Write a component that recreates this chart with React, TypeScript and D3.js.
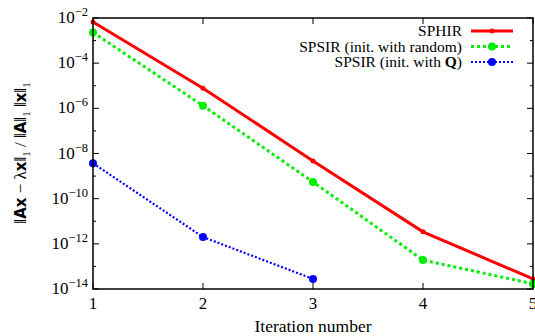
import React from "react";
import * as d3 from "d3";

const iterations = [1, 2, 3, 4, 5];
const sphir = [6.6e-3, 7.8e-6, 4.7e-9, 3.4e-12, 2.8e-14];
const spsirRandom = [2.3e-3, 1.3e-6, 5.5e-10, 1.9e-13, 1.7e-14];
const spsirQ = [3.7e-9, 2.0e-12, 2.8e-14];
const yTickExps = [-2, -4, -6, -8, -10, -12, -14];
const yMinorExps = [-3, -5, -7, -9, -11, -13];

const W = 535, H = 336;
const M = { left: 93, right: 533, top: 18, bottom: 289 };
const FONT = "Liberation Serif";

export default function App() {
  const x = d3.scaleLinear().domain([1, 5]).range([M.left, M.right]);
  const y = d3.scaleLog().domain([1e-14, 1e-2]).range([M.bottom, M.top]);
  const line = d3
    .line<[number, number]>()
    .x((d) => x(d[0]))
    .y((d) => y(d[1]));

  const series = [
    { name: "SPHIR", data: sphir, color: "#ff0000", width: 3, dash: "none", r: 2.5 },
    { name: "rand", data: spsirRandom, color: "#00ee00", width: 3, dash: "3,3", r: 4 },
    { name: "Q", data: spsirQ, color: "#0000ff", width: 2.2, dash: "2,2", r: 4 },
  ];

  const legendRows = [
    { label: <>SPHIR</>, s: series[0] },
    { label: <>SPSIR (init. with random)</>, s: series[1] },
    { label: <>SPSIR (init. with <tspan fontWeight="bold">Q</tspan>)</>, s: series[2] },
  ];

  const bold = { fontFamily: "DejaVu Sans", fontWeight: "bold" as const, fontSize: 15 };

  return (
    <svg width={W} height={H} style={{ position: "absolute", left: 0, top: 0, background: "#fff", fontFamily: FONT }}>
      {/* ticks */}
      {iterations.map((t) => (
        <g key={"xt" + t}>
          <line x1={x(t)} x2={x(t)} y1={M.bottom} y2={M.bottom - 6} stroke="#000" />
          <line x1={x(t)} x2={x(t)} y1={M.top} y2={M.top + 6} stroke="#000" />
          <text x={x(t)} y={M.bottom + 20} textAnchor="middle" fontSize={17} style={{ fontFamily: FONT }}>{t}</text>
        </g>
      ))}
      {yTickExps.map((e) => (
        <g key={"yt" + e}>
          <line x1={M.left} x2={M.left + 6} y1={y(Math.pow(10, e))} y2={y(Math.pow(10, e))} stroke="#000" />
          <line x1={M.right} x2={M.right - 6} y1={y(Math.pow(10, e))} y2={y(Math.pow(10, e))} stroke="#000" />
          <text x={88} y={y(Math.pow(10, e)) + 5} textAnchor="end" fontSize={17} style={{ fontFamily: FONT }}>
            10<tspan dy={-7} fontSize={12.5}>{"\u2212" + Math.abs(e)}</tspan>
          </text>
        </g>
      ))}
      {yMinorExps.map((e) => (
        <g key={"ym" + e}>
          <line x1={M.left} x2={M.left + 3} y1={y(Math.pow(10, e))} y2={y(Math.pow(10, e))} stroke="#000" />
          <line x1={M.right} x2={M.right - 3} y1={y(Math.pow(10, e))} y2={y(Math.pow(10, e))} stroke="#000" />
        </g>
      ))}

      {/* series */}
      {series.map((s) => {
        const pts = s.data.map((v, i) => [iterations[i], v] as [number, number]);
        return (
          <g key={s.name}>
            <path d={line(pts) || ""} fill="none" stroke={s.color} strokeWidth={s.width} strokeDasharray={s.dash} />
            {pts.map((p, i) => (
              <circle key={i} cx={x(p[0])} cy={y(p[1])} r={s.r} fill={s.color} />
            ))}
          </g>
        );
      })}

      {/* frame */}
      <rect x={M.left} y={M.top} width={M.right - M.left} height={M.bottom - M.top} fill="none" stroke="#000" strokeWidth={1.5} />

      {/* legend */}
      {legendRows.map((row, i) => {
        const cy = 31 + i * 15.5;
        return (
          <g key={i}>
            <text x={462} y={cy + 5} textAnchor="end" fontSize={15.5} style={{ fontFamily: FONT }}>{row.label}</text>
            <line x1={471} x2={513} y1={cy} y2={cy} stroke={row.s.color} strokeWidth={row.s.width} strokeDasharray={row.s.dash} />
            <circle cx={492} cy={cy} r={row.s.r} fill={row.s.color} />
          </g>
        );
      })}

      {/* axis titles */}
      <text x={(M.left + M.right) / 2} y={332} textAnchor="middle" fontSize={17.5} style={{ fontFamily: FONT }}>Iteration number</text>
      <text transform={`translate(26, 153) rotate(-90)`} textAnchor="middle" fontSize={17} style={{ fontFamily: FONT }}>
        {"\u2016"}<tspan style={bold}>A</tspan><tspan style={bold}>x</tspan>{" \u2212 \u03BB"}<tspan style={bold}>x</tspan>{"\u2016"}
        <tspan dy={4} fontSize={11}>1</tspan>
        <tspan dy={-4}>{" / \u2016"}</tspan><tspan style={bold}>A</tspan>{"\u2016"}
        <tspan dy={4} fontSize={11}>1</tspan>
        <tspan dy={-4}>{" \u2016"}</tspan><tspan style={bold}>x</tspan>{"\u2016"}
        <tspan dy={4} fontSize={11}>1</tspan>
      </text>
    </svg>
  );
}
